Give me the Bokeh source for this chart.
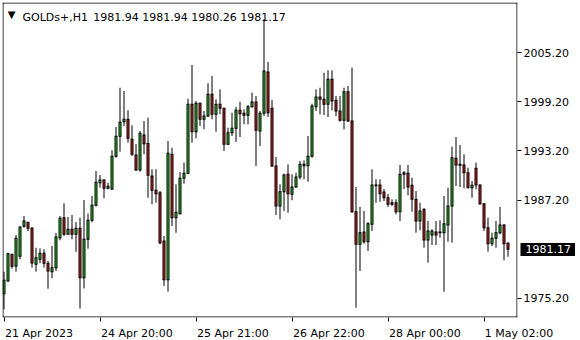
from bokeh.plotting import figure
from bokeh.models import FixedTicker, Label, Range1d, ColumnDataSource, CustomJSTickFormatter, LinearAxis, Span
from bokeh.embed import file_html
from bokeh.resources import INLINE

symbol = "GOLDs+,H1"
header_values = "1981.94 1981.94 1980.26 1981.17"
last_price = 1981.17

opens = [1975.73, 1977.30, 1980.56, 1979.09, 1980.31, 1983.98, 1984.47, 1983.74, 1979.33, 1979.94,
         1980.68, 1979.45, 1978.43, 1978.92, 1982.59, 1985.04, 1983.00, 1983.62, 1983.00, 1983.74,
         1977.69, 1982.39, 1984.72, 1986.55, 1989.32, 1989.65, 1988.63, 1988.55, 1992.55, 1995.00,
         1996.79, 1997.08, 1994.63, 1992.71, 1990.87, 1995.16, 1994.13, 1990.14, 1988.39, 1988.10,
         1982.18, 1977.45, 1992.80, 1985.04, 1985.53, 1989.86, 1990.47, 1998.92, 1995.56, 1999.04,
         1997.08, 1997.48, 2000.14, 1997.69, 1998.92, 1998.43, 1994.02, 1995.44, 1995.98, 1998.18,
         1997.81, 1997.57, 1998.62, 1999.20, 1995.65, 1997.81, 2002.87, 1998.43, 1991.36, 1986.47,
         1988.22, 1990.35, 1987.90, 1988.79, 1990.02, 1991.57, 1991.40, 1992.55, 1998.62, 1999.81,
         1999.53, 1998.92, 2001.98, 1999.41, 1998.10, 1996.96, 2000.46, 1996.87, 1985.77, 1981.78,
         1983.29, 1982.10, 1984.23, 1989.04, 1989.04, 1988.18, 1987.48, 1986.87, 1986.87, 1985.77,
         1990.35, 1990.47, 1989.00, 1987.29, 1984.63, 1986.06, 1982.31, 1982.92, 1983.29, 1983.20,
         1983.20, 1984.14, 1986.47, 1992.31, 1991.57, 1991.49, 1990.54, 1988.71, 1991.08, 1989.04,
         1986.75, 1983.81, 1981.85, 1982.51, 1983.20, 1984.14, 1981.94]
highs = [1978.43, 1980.75, 1980.59, 1982.92, 1983.95, 1985.24, 1984.50, 1983.90, 1981.36, 1981.29,
         1981.17, 1979.74, 1981.57, 1983.16, 1985.24, 1986.80, 1985.12, 1985.37, 1984.51, 1985.04,
         1987.20, 1985.55, 1987.69, 1990.75, 1990.26, 1989.74, 1989.32, 1993.29, 1996.14, 2000.95,
         2000.54, 1998.18, 1996.35, 1994.06, 1995.65, 1996.87, 1997.28, 1990.96, 1990.96, 1988.30,
         1982.80, 1994.42, 1993.60, 1989.12, 1990.63, 1991.77, 1999.60, 2003.73, 1999.32, 1999.11,
         1998.10, 2001.49, 2002.38, 1999.53, 2000.75, 1998.50, 1996.05, 1997.89, 1998.59, 1999.23,
         1998.30, 1998.83, 2000.34, 1999.93, 1998.10, 2009.32, 2004.09, 1999.44, 1992.47, 1989.12,
         1990.42, 1991.57, 1990.35, 1990.54, 1991.98, 1992.06, 1995.04, 1998.99, 2000.75, 2000.95,
         2002.78, 2003.08, 2003.08, 1999.93, 1999.93, 2000.95, 2001.16, 2003.40, 1988.79, 1986.35,
         1985.86, 1984.51, 1990.96, 1989.74, 1989.74, 1988.55, 1987.94, 1987.29, 1987.29, 1991.49,
         1990.75, 1991.49, 1989.93, 1988.30, 1986.87, 1986.18, 1984.63, 1983.62, 1984.63, 1984.72,
         1987.69, 1988.71, 1993.73, 1994.91, 1993.93, 1992.80, 1991.16, 1989.53, 1991.77, 1989.10,
         1986.80, 1985.04, 1983.20, 1984.63, 1986.35, 1984.23, 1981.94]
lows = [1973.82, 1977.20, 1978.79, 1978.43, 1979.94, 1983.81, 1983.41, 1978.92, 1978.43, 1979.45,
        1978.92, 1976.35, 1977.62, 1978.51, 1982.27, 1982.80, 1982.95, 1982.39, 1980.87, 1973.92,
        1976.37, 1981.24, 1984.47, 1986.41, 1988.71, 1987.41, 1988.51, 1988.43, 1992.38, 1993.11,
        1996.26, 1994.22, 1992.59, 1990.75, 1990.67, 1992.80, 1987.48, 1986.68, 1986.87, 1981.78,
        1976.68, 1975.98, 1984.02, 1983.20, 1985.45, 1989.20, 1990.35, 1994.22, 1994.75, 1996.26,
        1995.86, 1997.36, 1997.08, 1995.56, 1997.69, 1993.20, 1993.93, 1995.04, 1994.30, 1994.91,
        1996.47, 1996.47, 1998.50, 1991.36, 1993.81, 1997.48, 1997.36, 1991.24, 1985.37, 1984.84,
        1985.86, 1985.65, 1987.17, 1988.71, 1989.74, 1989.74, 1989.44, 1992.38, 1998.10, 1997.69,
        1997.61, 1997.36, 1998.18, 1997.48, 1996.79, 1995.86, 1996.75, 1985.65, 1974.02, 1978.51,
        1981.85, 1980.96, 1983.41, 1986.87, 1986.99, 1987.08, 1986.35, 1986.47, 1985.45, 1984.63,
        1988.55, 1987.78, 1985.77, 1983.20, 1983.49, 1981.36, 1979.53, 1981.69, 1981.69, 1982.59,
        1975.98, 1982.10, 1981.98, 1988.92, 1988.79, 1988.63, 1988.63, 1987.48, 1988.51, 1986.59,
        1983.41, 1980.87, 1981.57, 1981.36, 1983.00, 1979.82, 1980.26]
closes = [1977.37, 1980.63, 1979.09, 1982.51, 1983.90, 1984.63, 1983.74, 1979.49, 1980.14, 1980.68,
          1979.45, 1978.51, 1978.92, 1982.67, 1984.96, 1983.00, 1983.62, 1983.00, 1983.74, 1977.69,
          1982.39, 1984.72, 1986.55, 1989.37, 1989.65, 1988.63, 1988.88, 1992.55, 1995.00, 1996.71,
          1997.08, 1994.75, 1992.80, 1990.87, 1995.37, 1994.09, 1990.23, 1988.39, 1987.97, 1981.98,
          1977.45, 1992.92, 1985.04, 1985.70, 1989.86, 1990.47, 1998.92, 1995.56, 1999.04, 1997.08,
          1997.48, 2000.14, 1997.69, 1998.92, 1998.43, 1994.02, 1995.44, 1995.98, 1998.18, 1997.77,
          1997.57, 1998.62, 1999.20, 1995.73, 1997.81, 2002.99, 1997.89, 1991.36, 1986.47, 1988.22,
          1990.26, 1987.97, 1988.79, 1990.02, 1991.57, 1991.40, 1992.55, 1998.71, 1999.81, 1999.53,
          1998.92, 2001.98, 1999.32, 1998.10, 1996.96, 2000.46, 1996.87, 1985.77, 1981.78, 1983.20,
          1982.10, 1984.30, 1989.04, 1988.95, 1987.97, 1987.48, 1986.68, 1986.68, 1985.77, 1990.35,
          1990.54, 1988.79, 1987.29, 1984.63, 1985.86, 1982.31, 1983.41, 1983.41, 1982.92, 1983.29,
          1984.30, 1986.47, 1992.38, 1991.49, 1991.45, 1990.54, 1988.71, 1989.00, 1989.04, 1986.75,
          1983.81, 1981.85, 1982.51, 1983.20, 1984.14, 1981.85, 1981.17]

tick_bars = [0, 24, 48, 72, 96, 120]
tick_texts = ["21 Apr 2023", "24 Apr 20:00", "25 Apr 21:00", "26 Apr 22:00", "28 Apr 00:00", "1 May 02:00"]
price_ticks = [1975.2, 1987.2, 1993.2, 1999.2, 2005.2]   # 1981.20 is hidden under the price tag

BULL = "#22cc22"
BEAR = "#dd1c1c"
FONT = "DejaVu Sans"
FS = 11

FRAME_W, FRAME_H = 515, 315
X0 = -0.375
X1 = X0 + FRAME_W / 4.0
Y1 = 2011.376
PX_PER_UNIT = 8.17
Y0 = Y1 - FRAME_H / PX_PER_UNIT
PX_PER_BAR = FRAME_W / (X1 - X0)
HALF_PX_Y = 0.5 / PX_PER_UNIT

# approximate DejaVu Sans advance widths (em), used for label placement
ADV = {d: 0.636 for d in "0123456789"}
ADV.update({" ": 0.318, ":": 0.337, ".": 0.318, "A": 0.684, "p": 0.635, "r": 0.411,
            "M": 0.863, "a": 0.613, "y": 0.592, "\u00a0": 0.318})


def text_w(s):
    return sum(ADV.get(ch, 0.6) for ch in s) * FS


n = len(opens)
idx = list(range(n))
tops = [max(o, c) for o, c in zip(opens, closes)]
bottoms = [min(o, c) for o, c in zip(opens, closes)]
src = ColumnDataSource(dict(
    x=idx,
    low=lows,
    high=highs,
    o_top=[t + HALF_PX_Y for t in tops],
    o_bottom=[b - HALF_PX_Y for b in bottoms],
    i_top=[t - HALF_PX_Y if t - b > 2 * HALF_PX_Y else b for t, b in zip(tops, bottoms)],
    i_bottom=[b + HALF_PX_Y if t - b > 2 * HALF_PX_Y else b for t, b in zip(tops, bottoms)],
    color=[BULL if c >= o else BEAR for o, c in zip(opens, closes)],
))

p = figure(frame_width=FRAME_W, frame_height=FRAME_H,
           x_range=Range1d(X0, X1), y_range=Range1d(Y0, Y1),
           y_axis_location="right", toolbar_location=None, output_backend="svg",
           min_border_left=2, min_border_top=2, min_border_right=58, min_border_bottom=20)
p.grid.visible = False
p.outline_line_color = None
p.background_fill_color = "white"
p.border_fill_color = "white"

p.segment(x0="x", y0="low", x1="x", y1="high", source=src, line_color="black", line_width=1)
p.vbar(x="x", width=3 / PX_PER_BAR, bottom="o_bottom", top="o_top", source=src,
       fill_color="black", line_color=None)
p.vbar(x="x", width=1 / PX_PER_BAR, bottom="i_bottom", top="i_top", source=src,
       fill_color="color", line_color=None)

# crisp 1px chart border, half a pixel inside the frame
half_x = 0.5 / PX_PER_BAR
for loc, dim in [(X0 + half_x, "height"), (X1 - half_x, "height"),
                 (Y0 + HALF_PX_Y, "width"), (Y1 - HALF_PX_Y, "width")]:
    p.add_layout(Span(location=loc, dimension=dim, line_color="black", line_width=1))

# time axis: tick marks at the bars, labels left-aligned just right of them
major_pos, overrides = [], {}
for tb, tt in zip(tick_bars, tick_texts):
    w = text_w(tt)
    c = tb + (1 + w / 2) / PX_PER_BAR
    if c <= X1 - 0.5:
        major_pos.append(c)
        overrides[c] = tt
    else:
        k = int(round((w + 2) / (0.318 * FS)))
        major_pos.append(tb)
        overrides[tb] = "\u00a0" * k + tt

xa = p.xaxis[0]
xa.ticker = FixedTicker(ticks=major_pos, minor_ticks=tick_bars)
xa.major_label_overrides = overrides
xa.major_tick_out = 0
xa.major_tick_in = 0
xa.minor_tick_out = 4
xa.minor_tick_in = 0
xa.minor_tick_line_color = "black"
xa.axis_line_color = None
xa.major_label_standoff = 5
xa.major_label_text_font = FONT
xa.major_label_text_font_size = "%dpx" % FS
xa.major_label_text_color = "black"

# price axis
TICK = 4
STANDOFF = 2
ya = p.yaxis[0]
ya.ticker = FixedTicker(ticks=price_ticks)
ya.formatter = CustomJSTickFormatter(code="return tick.toFixed(2);")
ya.major_tick_out = TICK
ya.major_tick_in = 0
ya.major_tick_line_color = "black"
ya.minor_tick_out = 0
ya.minor_tick_in = 0
ya.major_label_standoff = STANDOFF
ya.major_label_text_font = FONT
ya.major_label_text_font_size = "%dpx" % FS
ya.major_label_text_color = "black"
ya.axis_line_color = None

# black price tag at the last price: an outer axis whose thick inward tick is the box
main_axis_w = int(round(TICK + STANDOFF + text_w("2005.20")))
tag_w = 56
tag = LinearAxis(ticker=FixedTicker(ticks=[last_price], minor_ticks=[last_price]),
                 formatter=CustomJSTickFormatter(code="return tick.toFixed(2);"))
tag.major_tick_out = 0
tag.major_tick_in = 0
tag.minor_tick_in = main_axis_w
tag.minor_tick_out = tag_w - main_axis_w
tag.minor_tick_line_width = 13
tag.minor_tick_line_color = "black"
tag.axis_line_color = None
tag.major_label_standoff = -(main_axis_w + tag.minor_tick_out - 5)
tag.major_label_text_font = FONT
tag.major_label_text_font_size = "%dpx" % FS
tag.major_label_text_color = "white"
p.add_layout(tag, "right")

p.add_layout(Label(x=9, y=303, x_units="screen", y_units="screen", text="\u25bc",
                   text_align="center", text_baseline="middle",
                   text_font=FONT, text_font_size="10px", text_color="black"))
p.add_layout(Label(x=20, y=300.3, x_units="screen", y_units="screen", text=symbol,
                   text_align="left", text_baseline="alphabetic",
                   text_font=FONT, text_font_size="%dpx" % FS, text_color="black"))
p.add_layout(Label(x=90.7, y=300.3, x_units="screen", y_units="screen", text=header_values,
                   text_align="left", text_baseline="alphabetic",
                   text_font=FONT, text_font_size="%dpx" % FS, text_color="black"))

open("out.html", "w").write(file_html(p, INLINE))
